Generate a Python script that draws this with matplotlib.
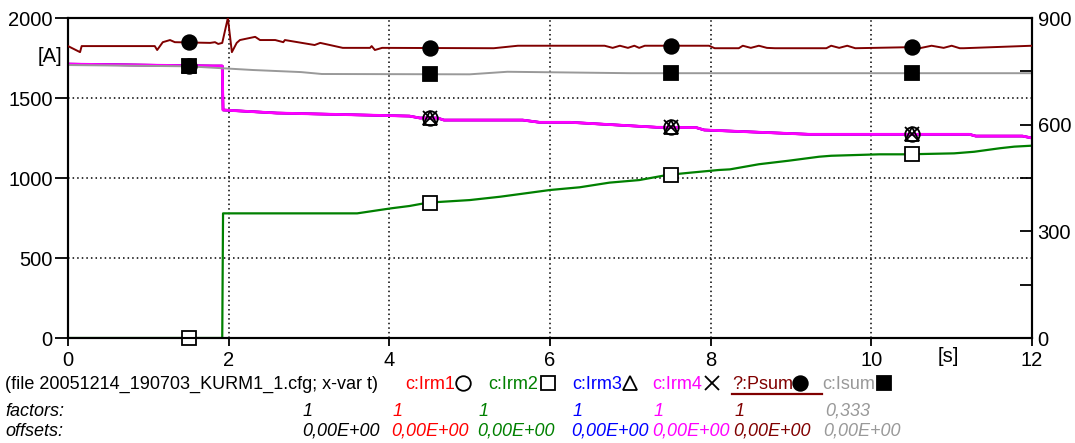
import matplotlib
matplotlib.use("Agg")
import matplotlib.pyplot as plt
import numpy as np
from matplotlib.ticker import MultipleLocator, FuncFormatter

plt.rcParams['font.family'] = ['Liberation Sans', 'DejaVu Sans']

# ---------------- data ----------------
# Irm4 (magenta) - Irm1 and Irm3 coincide with it
t_irm = [0, 1.8, 1.92, 1.93, 2.6, 4.25, 4.38, 4.6, 4.68, 5.66, 5.87, 6.25, 7.33,
         7.82, 7.92, 9.23, 11.22, 11.3, 11.88, 12]
irm4 = [1712, 1700, 1700, 1425, 1406, 1387, 1375, 1375, 1362, 1362, 1348, 1348, 1317,
        1315, 1300, 1273, 1273, 1262, 1262, 1250]
irm1 = list(irm4)
irm3 = list(irm4)

# Irm2 (green)
t_irm2 = [0, 1.92, 1.93, 3.6, 3.88, 4.03, 4.25, 4.48, 5.0, 5.38, 5.75, 6.0, 6.37,
          6.74, 7.11, 7.46, 7.74, 8.1, 8.24, 8.6, 8.97, 9.35, 9.5, 10.1, 10.45,
          11.03, 11.28, 11.6, 11.78, 12]
irm2 = [0, 0, 779, 779, 800, 811, 825, 846, 862, 883, 908, 925, 942,
        971, 987, 1019, 1033, 1050, 1054, 1086, 1108, 1133, 1139, 1148, 1148,
        1154, 1164, 1186, 1196, 1202]

# Isum (grey, factor 0.333)
t_isum = [0, 1.5, 1.92, 2.3, 2.9, 3.16, 5.0, 5.47, 7.0, 12]
isum = [1706, 1698, 1686, 1675, 1662, 1650, 1648, 1664, 1655, 1655]

# Psum (dark red, right axis)
t_psum = [0, 0.15, 0.17, 1.08, 1.11, 1.18, 1.27, 1.33, 1.77, 1.83, 1.87, 1.92, 1.99,
          2.04, 2.10, 2.14, 2.33, 2.39, 2.58, 2.68, 2.70, 3.07, 3.14, 3.42, 3.76,
          3.78, 3.82, 3.91, 5.3, 5.6, 6.68, 6.78, 6.87, 6.97, 7.05, 7.11, 7.18,
          7.98, 8.05, 8.35, 8.4, 8.5, 8.6, 8.7, 8.8, 9.44, 9.5, 9.6, 9.7, 9.8,
          10.5, 10.6, 10.75, 10.9, 11.0, 11.1, 11.15, 12]
psum = [821, 804, 821, 821, 810, 832, 838, 832, 830, 832, 827, 830, 900,
        804, 830, 838, 847, 838, 838, 832, 838, 824, 830, 816, 816,
        821, 810, 816, 815, 822, 822, 816, 822, 816, 822, 816, 822,
        822, 815, 815, 822, 816, 822, 816, 815, 815, 822, 816, 822, 815,
        818, 815, 822, 816, 822, 815, 815, 822]

marker_t = [1.5, 4.5, 7.5, 10.5]

x_ticks = [0, 2, 4, 6, 8, 10, 12]
y_ticks = [0, 500, 1000, 1500, 2000]

names = ['c:Irm1', 'c:Irm2', 'c:Irm3', 'c:Irm4', '?:Psum', 'c:Isum']
factors = ['1', '1', '1', '1', '1', '0,333']
offsets = ['0,00E+00'] * 6

# ---------------- style ----------------
RED, GREEN, BLUE, MAG, DRED, GREY = '#ff0000', '#008000', '#0000ff', '#ff00ff', '#800000', '#999999'
colors = [RED, GREEN, BLUE, MAG, DRED, GREY]
TICK_FS = 14.5
LEG_FS = 13

W, H = 1075, 443
fig = plt.figure(figsize=(W / 100, H / 100), dpi=100)
L, R, T, B = 68, 1032, 18, 338
ax = fig.add_axes([L / W, (H - B) / H, (R - L) / W, (B - T) / H])
ax.set_xlim(0, 12)
ax.set_ylim(0, 2000)
ax.set_xticks(x_ticks)
ax.set_yticks(y_ticks)
ax.grid(True, color='black', linestyle=(0, (1, 2)), linewidth=1.1)
for s in ax.spines.values():
    s.set_linewidth(1.5)
ax.xaxis.set_ticks_position('bottom')
ax.yaxis.set_ticks_position('left')
ax.tick_params(axis='x', direction='out', length=6, width=1.3, labelsize=TICK_FS, pad=3)
ax.tick_params(axis='y', direction='out', length=9.5, width=1.3, labelsize=TICK_FS, pad=1.5)

mk = dict(clip_on=False, linestyle='none', markersize=10.5, markeredgewidth=1.3,
          markeredgecolor='black')

ax.plot(t_irm, irm1, color=RED, lw=1.8, zorder=3)
ax.plot(t_irm2, irm2, color=GREEN, lw=1.6, zorder=3)
ax.plot(t_irm, irm3, color=BLUE, lw=1.8, zorder=3)
ax.plot(t_irm, irm4, color=MAG, lw=2.0, zorder=3)
ax.plot(t_isum, isum, color=GREY, lw=1.4, zorder=3)

ax.plot(marker_t, np.interp(marker_t, t_irm, irm1), marker='o', markerfacecolor='none', zorder=4, **mk)
ax.plot(marker_t, np.interp(marker_t, t_irm2, irm2), marker='s', markerfacecolor='white', zorder=4, **mk)
ax.plot(marker_t, np.interp(marker_t, t_irm, irm3), marker='^', markerfacecolor='none', zorder=4, **mk)
ax.plot(marker_t, np.interp(marker_t, t_irm, irm4), marker='x', zorder=4, **mk)
ax.plot(marker_t, np.interp(marker_t, t_isum, isum), marker='s', markerfacecolor='black', zorder=5, **mk)

ax2 = ax.twinx()
ax2.set_ylim(0, 900)
ax2.yaxis.set_major_locator(MultipleLocator(150))
ax2.yaxis.set_major_formatter(FuncFormatter(lambda v, p: f"{int(round(v))}" if int(round(v)) % 300 == 0 else ""))
ax2.tick_params(axis='y', direction='in', length=8.5, width=1.3, labelsize=TICK_FS, pad=4)
for s in ax2.spines.values():
    s.set_linewidth(1.5)
ax2.plot(t_psum, psum, color=DRED, lw=1.4, zorder=3)
ax2.plot(marker_t, np.interp(marker_t, t_psum, psum), marker='o', markerfacecolor='black', zorder=5, **mk)

# ---------------- overlay for unit labels and legend table ----------------
lax = fig.add_axes([0, 0, 1, 1], zorder=5)
lax.set_xlim(0, W)
lax.set_ylim(H, 0)
lax.axis('off')
lax.patch.set_visible(False)

lax.text(62, 56, '[A]', fontsize=TICK_FS, ha='right', va='center')
lax.text(938, 356, '[s]', fontsize=TICK_FS, ha='left', va='center')

y1, y2, y3 = 389, 416, 436
lax.text(5, y1, '(file 20051214_190703_KURM1_1.cfg; x-var t)', fontsize=LEG_FS, ha='left', va='baseline')
lax.text(5, y2, 'factors:', fontsize=LEG_FS, style='italic', ha='left', va='baseline')
lax.text(5, y3, 'offsets:', fontsize=LEG_FS, style='italic', ha='left', va='baseline')
lax.text(303, y2, '1', fontsize=LEG_FS, style='italic', ha='left', va='baseline')
lax.text(302, y3, '0,00E+00', fontsize=LEG_FS, style='italic', ha='left', va='baseline')

label_x = [405, 488, 572, 652, 732, 822]
col_x = [391, 477, 571, 652, 733, 823]
marker_x = [463, 548, 630, 712, 800, 884]
leg_markers = [('o', 'none'), ('s', 'white'), ('^', 'none'), ('x', 'black'), ('o', 'black'), ('s', 'black')]
for i in range(6):
    lax.text(label_x[i], y1, names[i], fontsize=LEG_FS, color=colors[i], ha='left', va='baseline')
    lax.text(col_x[i] + 2, y2, factors[i], fontsize=LEG_FS, style='italic', color=colors[i], ha='left', va='baseline')
    lax.text(col_x[i], y3, offsets[i], fontsize=LEG_FS, style='italic', color=colors[i], ha='left', va='baseline')
    m, fc = leg_markers[i]
    lax.plot([marker_x[i]], [383], marker=m, markerfacecolor=fc, linestyle='none',
             markersize=10.5, markeredgewidth=1.3, markeredgecolor='black', clip_on=False)
lax.plot([label_x[4], label_x[5]], [394, 394], color=DRED, lw=1.6)

fig.savefig('out.png', dpi=100)
